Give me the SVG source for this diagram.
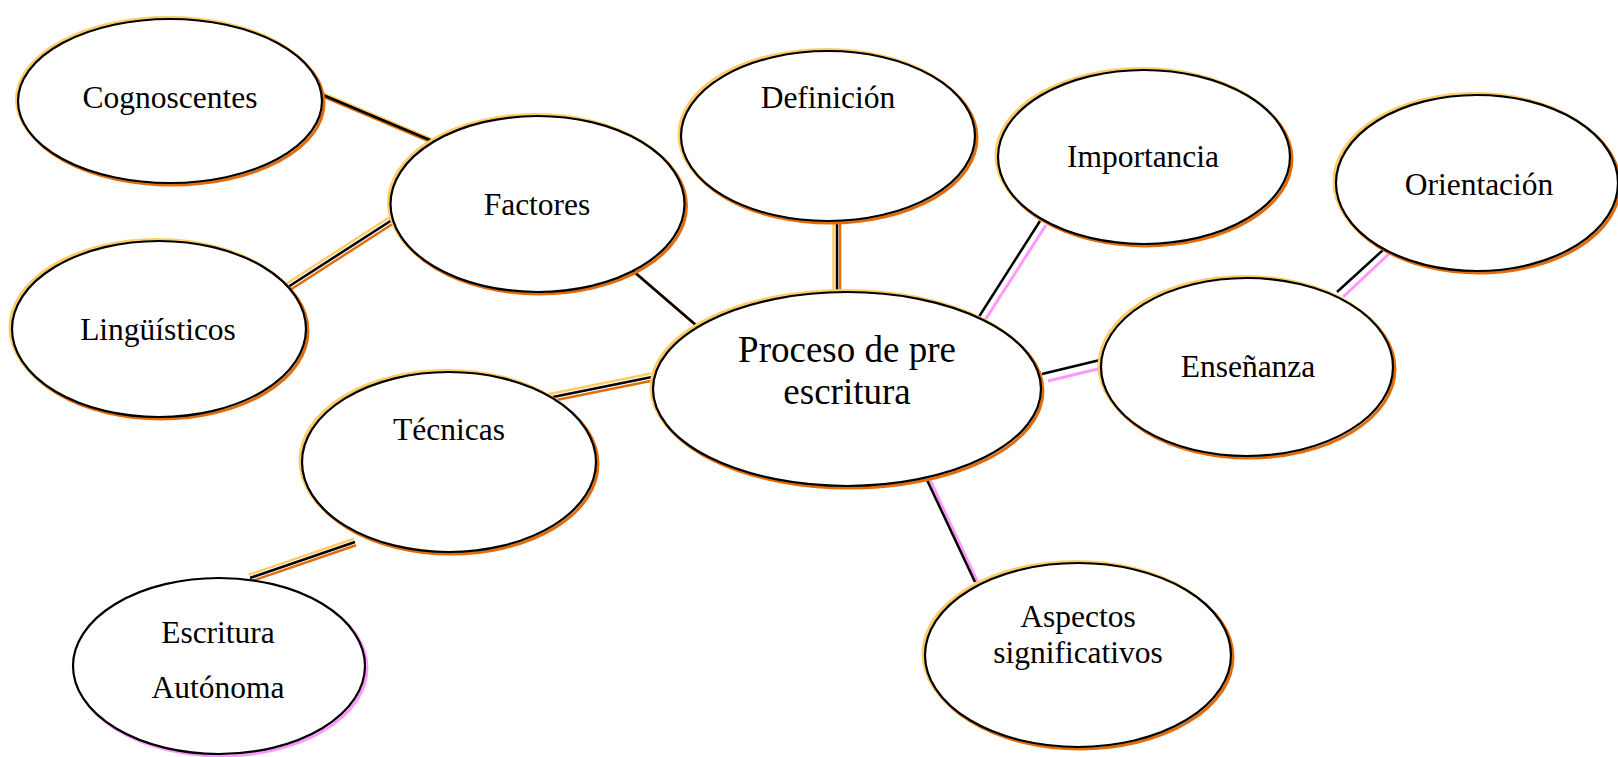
<svg xmlns="http://www.w3.org/2000/svg" width="1618" height="757" viewBox="0 0 1618 757">
<style>
.bg{fill:#ffffff}
.lt{fill:none;stroke:#FFCC66;stroke-width:3}
.dk{fill:none;stroke:#E36C0A;stroke-width:3}
.pk{fill:none;stroke:#FF99FF;stroke-width:3}
.el{fill:#ffffff;stroke:#000000;stroke-width:2.2}
.t{font-family:"Liberation Serif","Times New Roman",serif;font-size:31.5px;fill:#000;text-anchor:middle}
.tc{font-family:"Liberation Serif","Times New Roman",serif;font-size:37px;fill:#000;text-anchor:middle}
.cb{stroke:#000;stroke-width:2.5;fill:none}
.co{stroke:#FFCC66;stroke-width:2.5;fill:none}
.cd{stroke:#E36C0A;stroke-width:2.5;fill:none}
.cp{stroke:#FF99FF;stroke-width:3;fill:none}
</style>
<rect class="bg" x="0" y="0" width="1618" height="757"/>
<g id="connectors">
  <!-- Cognoscentes - Factores -->
  <line class="co" x1="322" y1="93" x2="436" y2="141"/>
  <line class="cd" x1="324" y1="97" x2="438" y2="145"/>
  <line class="cb" x1="323" y1="95" x2="437" y2="143"/>
  <!-- Linguisticos - Factores -->
  <line class="co" x1="286" y1="284" x2="390" y2="217"/>
  <line class="cd" x1="290" y1="290" x2="394" y2="223"/>
  <line class="cb" x1="288" y1="287" x2="392" y2="220"/>
  <!-- Factores - Proceso -->
  <line class="cd" x1="633" y1="271" x2="698" y2="327" stroke-width="1.5"/>
  <line class="cb" x1="632" y1="270" x2="697" y2="326" stroke-width="2"/>
  <!-- Definicion - Proceso -->
  <line class="co" x1="833.5" y1="221" x2="833.5" y2="291"/>
  <line class="cd" x1="840" y1="221" x2="840" y2="291" stroke-width="1.8"/>
  <line class="cb" x1="837" y1="221" x2="837" y2="291"/>
  <!-- Importancia - Proceso -->
  <line class="cp" x1="1046" y1="225" x2="980" y2="328"/>
  <line class="cb" x1="1040" y1="221" x2="975" y2="323"/>
  <!-- Proceso - Ensenanza -->
  <line class="cp" x1="1048" y1="381" x2="1106" y2="367"/>
  <line class="cb" x1="1042" y1="374" x2="1100" y2="360"/>
  <!-- Ensenanza - Orientacion -->
  <line class="cp" x1="1343" y1="297" x2="1390" y2="253"/>
  <line class="cb" x1="1337" y1="292" x2="1383" y2="250"/>
  <!-- Tecnicas - Proceso -->
  <line class="co" x1="547" y1="394.5" x2="651" y2="373.5"/>
  <line class="cd" x1="549" y1="401.5" x2="653" y2="380.5"/>
  <line class="cb" x1="548" y1="398" x2="652" y2="377"/>
  <!-- Tecnicas - Escritura -->
  <line class="co" x1="249" y1="574.7" x2="354" y2="538.7"/>
  <line class="cd" x1="251" y1="581.3" x2="356" y2="545.3"/>
  <line class="cb" x1="250" y1="578" x2="355" y2="542"/>
  <!-- Proceso - Aspectos -->
  <line class="cp" x1="930" y1="480" x2="978" y2="583"/>
  <line class="cb" x1="927" y1="480" x2="975" y2="582"/>
</g>
<g id="node-cognoscentes">
  <ellipse class="lt" cx="168.5" cy="99.5" rx="152" ry="82"/>
  <ellipse class="dk" cx="172" cy="103" rx="152" ry="82"/>
  <ellipse class="el" cx="170" cy="101" rx="152" ry="82"/>
  <text class="t" x="170" y="108">Cognoscentes</text>
</g>
<g id="node-factores">
  <ellipse class="lt" cx="535.5" cy="202.5" rx="147" ry="88"/>
  <ellipse class="dk" cx="539.5" cy="206" rx="147" ry="88"/>
  <ellipse class="el" cx="537.5" cy="204" rx="147" ry="88"/>
  <text class="t" x="537" y="215">Factores</text>
</g>
<g id="node-linguisticos">
  <ellipse class="lt" cx="157" cy="327.5" rx="147" ry="88"/>
  <ellipse class="dk" cx="161" cy="331" rx="147" ry="88"/>
  <ellipse class="el" cx="159" cy="329" rx="147" ry="88"/>
  <text class="t" x="158" y="340">Lingüísticos</text>
</g>
<g id="node-definicion">
  <ellipse class="lt" cx="826" cy="134.5" rx="147" ry="85"/>
  <ellipse class="dk" cx="830" cy="138" rx="147" ry="85"/>
  <ellipse class="el" cx="828" cy="136" rx="147" ry="85"/>
  <text class="t" x="828" y="108">Definición</text>
</g>
<g id="node-importancia">
  <ellipse class="lt" cx="1142" cy="155.5" rx="146" ry="87"/>
  <ellipse class="dk" cx="1146" cy="159" rx="146" ry="87"/>
  <ellipse class="el" cx="1144" cy="157" rx="146" ry="87"/>
  <text class="t" x="1143" y="167">Importancia</text>
</g>
<g id="node-orientacion">
  <ellipse class="lt" cx="1475" cy="181.5" rx="141" ry="88"/>
  <ellipse class="dk" cx="1479" cy="185" rx="141" ry="88"/>
  <ellipse class="el" cx="1477" cy="183" rx="141" ry="88"/>
  <text class="t" x="1479" y="195">Orientación</text>
</g>
<g id="node-ensenanza">
  <ellipse class="lt" cx="1245" cy="365.5" rx="146" ry="89"/>
  <ellipse class="dk" cx="1249" cy="369" rx="146" ry="89"/>
  <ellipse class="el" cx="1247" cy="367" rx="146" ry="89"/>
  <text class="t" x="1248" y="377">Enseñanza</text>
</g>
<g id="node-proceso">
  <ellipse class="lt" cx="845" cy="387.5" rx="194" ry="97"/>
  <ellipse class="dk" cx="849" cy="391" rx="194" ry="97"/>
  <ellipse class="el" cx="847" cy="389" rx="194" ry="97"/>
  <text class="tc" x="847" y="362">Proceso de pre</text>
  <text class="tc" x="847" y="404">escritura</text>
</g>
<g id="node-tecnicas">
  <ellipse class="lt" cx="447" cy="460.5" rx="147" ry="90"/>
  <ellipse class="dk" cx="451" cy="464" rx="147" ry="90"/>
  <ellipse class="el" cx="449" cy="462" rx="147" ry="90"/>
  <text class="t" x="449" y="440">Técnicas</text>
</g>
<g id="node-escritura">
  <ellipse class="pk" cx="221" cy="668" rx="146" ry="88"/>
  <ellipse class="el" cx="219" cy="666" rx="146" ry="88"/>
  <text class="t" x="218" y="643">Escritura</text>
  <text class="t" x="218" y="698">Autónoma</text>
</g>
<g id="node-aspectos">
  <ellipse class="lt" cx="1076" cy="653.5" rx="153" ry="92"/>
  <ellipse class="dk" cx="1080" cy="657" rx="153" ry="92"/>
  <ellipse class="el" cx="1078" cy="655" rx="153" ry="92"/>
  <text class="t" x="1078" y="627">Aspectos</text>
  <text class="t" x="1078" y="663">significativos</text>
</g>
</svg>
